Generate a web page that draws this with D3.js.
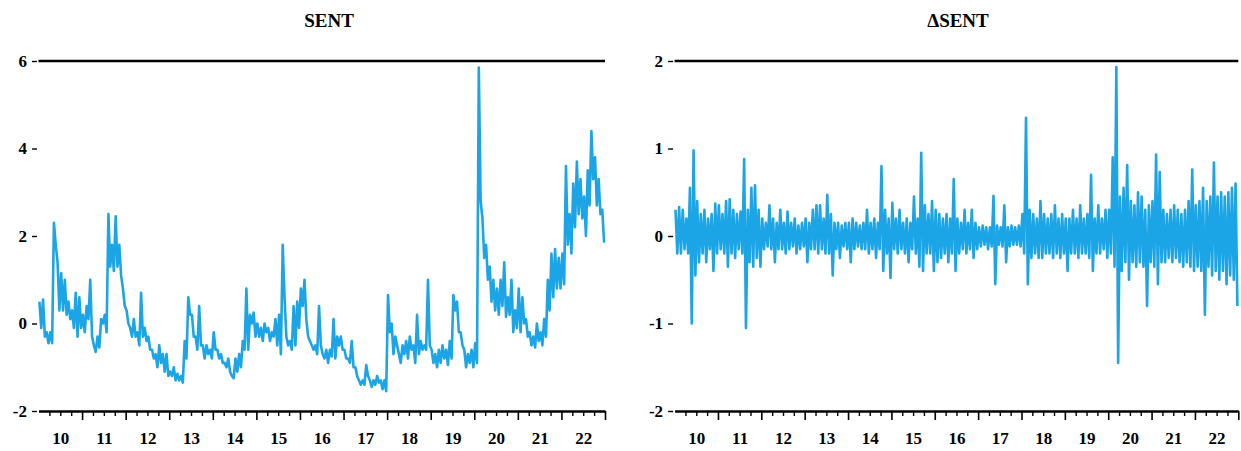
<!DOCTYPE html>
<html>
<head>
<meta charset="utf-8">
<script src="https://cdn.jsdelivr.net/npm/d3@7"></script>
<style>
  body { margin: 0; background: #fff; }
  svg text { font-family: "Liberation Serif", "Times New Roman", serif; font-weight: bold; fill: #000; }
</style>
</head>
<body>
<svg id="chart" width="1241" height="451"></svg>
<script>
// x axis: years 2010..2022, labelled with two digits
const years = d3.range(2010, 2023);
const yearLabels = ["10", "11", "12", "13", "14", "15", "16", "17", "18", "19", "20", "21", "22"];
const sentTicks = [-2, 0, 2, 4, 6];
const dsentTicks = [-2, -1, 0, 1, 2];

// SENT, monthly high and low readings (Jan 2010 - Dec 2022), one row per year
const sentHigh = [
  0.5, 0.55, -0.2, -0.2, 2.3, 1.4, 1.15, 1.0, 0.5, 0.3, 0.7, 0.6,
  0.2, 0.4, 1.0, -0.5, -0.3, 0.1, 0.2, 2.5, 1.8, 2.45, 1.8, 0.8,
  0.3, -0.1, 0.1, -0.2, 0.7, -0.1, -0.3, -0.6, -0.7, -0.5, -0.7, -0.7,
  -1.1, -1.0, -1.15, -1.2, -0.4, 0.6, 0.2, -0.3, 0.4, -0.5, -0.5, -0.6,
  -0.2, -0.6, -0.7, -0.9, -0.8, -1.2, -0.8, -0.7, -0.4, 0.8, 0.2, 0.25,
  0.0, -0.1, 0.0, -0.1, -0.2, 0.1, 0.2, 1.8, -0.3, -0.4, 0.4, 0.5,
  0.8, 1.0, -0.3, -0.5, -0.5, 0.4, -0.7, -0.6, -0.6, 0.1, -0.3, -0.3,
  -0.6, -0.8, -0.4, -1.0, -1.3, -1.3, -0.95, -1.3, -1.3, -1.2, -1.3, -1.3,
  0.65, 0.0, -0.3, -0.7, -0.5, -0.4, -0.3, -0.5, 0.2, -0.4, -0.5, 1.0,
  -0.6, -0.7, -0.6, -0.5, -0.6, -0.4, 0.65, 0.5, -0.2, -0.6, -0.7, -0.6,
  -0.45, 5.85, 2.4, 1.8, 1.3, 1.0, 0.8, 1.0, 1.4, 0.6, 1.0, 0.3,
  0.8, 0.6, 0.1, -0.2, -0.3, 0.0, -0.2, 0.1, 1.0, 1.6, 1.7, 1.5,
  1.6, 3.6, 2.5, 3.2, 3.7, 3.3, 2.9, 3.5, 4.4, 3.8, 3.3, 2.6
];
const sentLow = [
  -0.1, -0.3, -0.45, -0.45, 1.8, 0.3, 0.3, 0.2, 0.1, -0.1, -0.3, -0.1,
  -0.2, 0.1, -0.3, -0.65, -0.55, 0.0, -0.2, 1.3, 1.2, 1.3, 1.1, 0.4,
  0.0, -0.3, -0.3, -0.5, -0.3, -0.4, -0.6, -0.8, -1.0, -0.9, -1.1, -1.2,
  -1.2, -1.3, -1.3, -1.35, -0.8, 0.2, -0.3, -0.6, -0.5, -0.8, -0.7, -0.8,
  -0.6, -0.8, -0.9, -1.0, -1.1, -1.25, -1.1, -1.0, -0.6, -0.6, 0.0, -0.3,
  -0.3, -0.4, -0.2, -0.4, -0.3, -0.5, -0.7, 0.6, -0.5, -0.6, -0.5, -0.1,
  0.4, 0.1, -0.4, -0.6, -0.7, -0.5, -0.8, -0.9, -0.75, -0.8, -0.5, -0.6,
  -0.8, -0.9, -1.0, -1.2, -1.4, -1.4, -1.2, -1.45, -1.4, -1.35, -1.5, -1.55,
  -0.2, -0.7, -0.5, -0.9, -0.7, -0.8, -0.6, -0.9, -0.7, -0.6, -0.6, -0.5,
  -0.9, -1.0, -0.9, -0.8, -0.95, -0.8, 0.3, -0.2, -0.5, -1.0, -0.9, -1.0,
  -0.9, 2.8, 1.5, 1.0, 0.5, 0.3, 0.2, 0.4, 0.15, 0.2, -0.2, -0.1,
  -0.2, 0.0, -0.3, -0.5, -0.55, -0.4, -0.5, -0.3, 0.3, 0.6, 0.8, 0.8,
  0.9, 1.8, 1.6, 2.2, 2.5, 2.4, 2.0, 2.7, 3.3, 2.7, 2.5, 1.85
];

// ΔSENT, monthly high and low readings (Jan 2010 - Dec 2022), one row per year
const dsentHigh = [
  0.3, 0.33, 0.3, 0.2, 0.55, 0.98, 0.4, 0.25, 0.3, 0.2, 0.25, 0.37,
  0.35, 0.25, 0.4, 0.42, 0.3, 0.25, 0.28, 0.88, 0.3, 0.55, 0.58, 0.3,
  0.2, 0.15, 0.35, 0.2, 0.15, 0.3, 0.15, 0.28, 0.15, 0.2, 0.12, 0.15,
  0.2, 0.15, 0.3, 0.35, 0.35, 0.2, 0.47, 0.25, 0.15, 0.15, 0.12, 0.15,
  0.15, 0.2, 0.15, 0.12, 0.15, 0.3, 0.15, 0.2, 0.15, 0.8, 0.3, 0.2,
  0.38, 0.2, 0.3, 0.15, 0.2, 0.15, 0.45, 0.2, 0.95, 0.35, 0.25, 0.4,
  0.3, 0.25, 0.2, 0.25, 0.2, 0.65, 0.2, 0.15, 0.3, 0.15, 0.3, 0.15,
  0.1, 0.12, 0.1, 0.1, 0.46, 0.12, 0.1, 0.35, 0.1, 0.12, 0.1, 0.12,
  0.25, 1.35, 0.3, 0.25, 0.2, 0.4, 0.25, 0.2, 0.25, 0.35, 0.2, 0.25,
  0.2, 0.2, 0.3, 0.2, 0.35, 0.2, 0.25, 0.7, 0.2, 0.35, 0.2, 0.3,
  0.3, 0.9, 1.93, 0.45, 0.55, 0.81, 0.4, 0.35, 0.5, 0.45, 0.3, 0.35,
  0.4, 0.93, 0.73, 0.3, 0.25, 0.3, 0.35, 0.3, 0.25, 0.3, 0.4, 0.76,
  0.35, 0.4, 0.55, 0.4, 0.45, 0.84, 0.45, 0.5, 0.45, 0.5, 0.55, 0.6
];
const dsentLow = [
  -0.2, -0.2, -0.15, -0.2, -1.0, -0.45, -0.3, -0.2, -0.3, -0.15, -0.4, -0.2,
  -0.15, -0.2, -0.35, -0.2, -0.25, -0.15, -0.2, -1.05, -0.3, -0.35, -0.25, -0.35,
  -0.15, -0.12, -0.15, -0.3, -0.15, -0.15, -0.2, -0.15, -0.12, -0.2, -0.15, -0.12,
  -0.3, -0.15, -0.15, -0.2, -0.15, -0.2, -0.2, -0.45, -0.15, -0.25, -0.12, -0.15,
  -0.3, -0.15, -0.12, -0.15, -0.15, -0.2, -0.15, -0.25, -0.15, -0.4, -0.2, -0.48,
  -0.15, -0.2, -0.15, -0.2, -0.3, -0.15, -0.2, -0.35, -0.4, -0.2, -0.2, -0.4,
  -0.3, -0.25, -0.2, -0.3, -0.2, -0.4, -0.2, -0.15, -0.2, -0.15, -0.25, -0.15,
  -0.12, -0.1, -0.15, -0.12, -0.55, -0.1, -0.12, -0.3, -0.12, -0.1, -0.1, -0.12,
  -0.2, -0.55, -0.25, -0.2, -0.25, -0.25, -0.2, -0.2, -0.25, -0.2, -0.25, -0.2,
  -0.4, -0.2, -0.2, -0.25, -0.2, -0.2, -0.25, -0.4, -0.2, -0.2, -0.15, -0.25,
  -0.2, -0.35, -1.45, -0.4, -0.3, -0.5, -0.3, -0.35, -0.3, -0.35, -0.8, -0.3,
  -0.35, -0.55, -0.3, -0.3, -0.25, -0.3, -0.25, -0.3, -0.35, -0.3, -0.35, -0.4,
  -0.35, -0.4, -0.9, -0.35, -0.45, -0.4, -0.5, -0.4, -0.55, -0.45, -0.5, -0.8
];

// each line runs high, low, high, low ... through the months
const sent = sentHigh.flatMap((h, i) => [h, sentLow[i]]);
const dsent = dsentHigh.flatMap((h, i) => [h, dsentLow[i]]);

const svg = d3.select("#chart");
const lineColor = "#1ca5e6";
const yTop = 61, yBottom = 411;

svg.append("rect").attr("width", 1241).attr("height", 451).attr("fill", "#fff");

function drawPanel(title, values, ticks, xRange, titleX) {
  const x = d3.scaleLinear().domain([2010, 2023]).range(xRange);
  const y = d3.scaleLinear().domain([ticks[0], ticks[ticks.length - 1]]).range([yBottom, yTop]);

  svg.append("text")
    .attr("x", titleX)
    .attr("y", 27)
    .attr("text-anchor", "middle")
    .style("font-size", "19px")
    .text(title);

  // frame line at the top of the plot
  svg.append("line")
    .attr("x1", x(2010)).attr("x2", x(2023))
    .attr("y1", yTop).attr("y2", yTop)
    .attr("stroke", "#000")
    .attr("stroke-width", 2.6);

  // quarter ticks
  svg.append("g")
    .attr("transform", `translate(0,${yBottom})`)
    .call(d3.axisBottom(x)
      .tickValues(d3.range(2010.25, 2023, 0.25).filter(d => d % 1 !== 0))
      .tickSize(5).tickSizeOuter(0).tickFormat(""))
    .call(g => g.select(".domain").remove())
    .call(g => g.selectAll(".tick line").attr("stroke-width", 1.4));

  // year ticks and the axis line
  svg.append("g")
    .attr("transform", `translate(0,${yBottom})`)
    .call(d3.axisBottom(x)
      .tickValues(d3.range(2011, 2024))
      .tickSize(9).tickSizeOuter(0).tickFormat(""))
    .call(g => g.select(".domain").attr("stroke-width", 2.6))
    .call(g => g.selectAll(".tick line").attr("stroke-width", 1.6));

  // year labels centred in each year
  svg.append("g")
    .attr("transform", `translate(0,${yBottom})`)
    .call(d3.axisBottom(x)
      .tickValues(years.map(d => d + 0.5))
      .tickSize(0).tickPadding(21)
      .tickFormat((d, i) => yearLabels[i]))
    .call(g => g.select(".domain").remove())
    .call(g => g.selectAll("text").style("font-size", "17px").attr("fill", "#000"));

  svg.append("g")
    .attr("transform", `translate(${x(2010) - 1.5},0)`)
    .call(d3.axisLeft(y).tickValues(ticks).tickSize(5).tickPadding(5).tickFormat(d => String(d)))
    .call(g => g.select(".domain").remove())
    .call(g => g.selectAll(".tick line").attr("stroke-width", 1.4))
    .call(g => g.selectAll("text").style("font-size", "17px").attr("fill", "#000"));

  const line = d3.line()
    .x((d, i) => x(2010 + (i * 0.5 + 0.25) / 12))
    .y(d => y(d));

  svg.append("path")
    .datum(values)
    .attr("fill", "none")
    .attr("stroke", lineColor)
    .attr("stroke-width", 2.6)
    .attr("stroke-linejoin", "round")
    .attr("d", line);
}

drawPanel("SENT", sent, sentTicks, [38.5, 605], 329);
drawPanel("\u0394SENT", dsent, dsentTicks, [674.6, 1238.3], 958);
</script>
</body>
</html>
